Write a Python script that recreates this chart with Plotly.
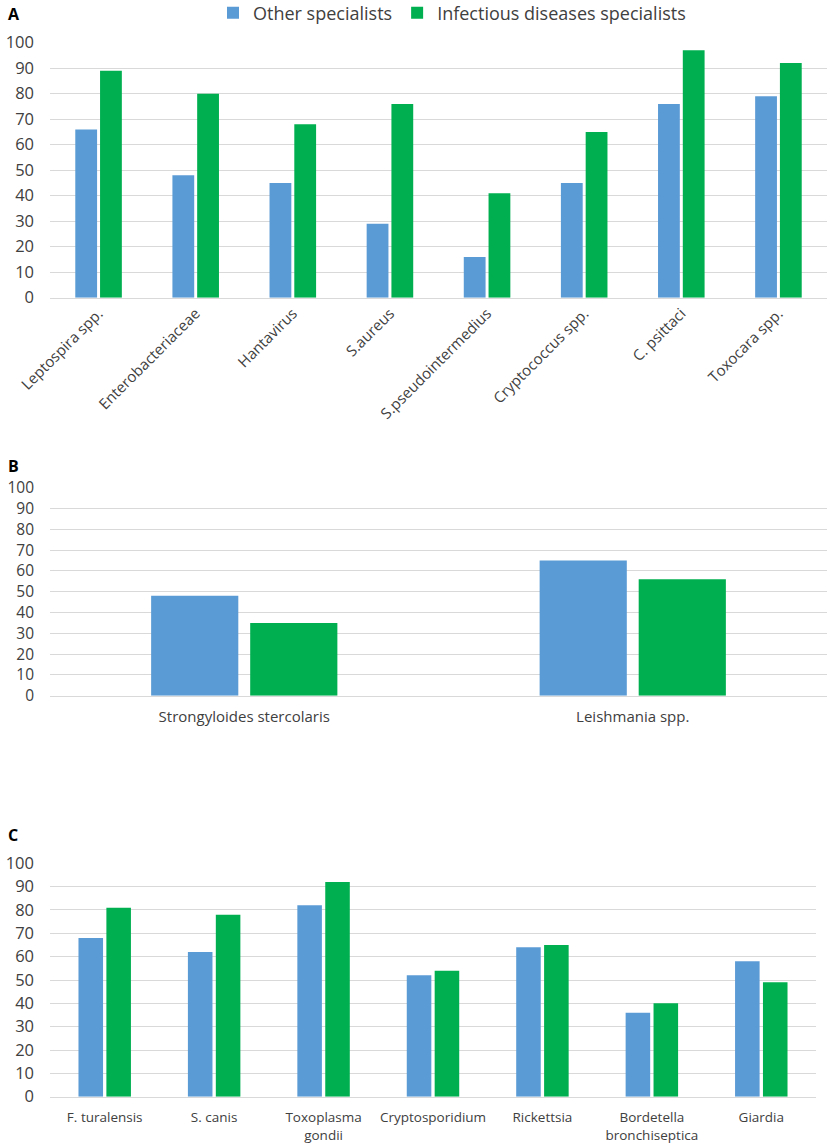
import plotly.graph_objects as go

# panel A
cats_a = ["Leptospira spp.", "Enterobacteriaceae", "Hantavirus", "S.aureus",
          "S.pseudointermedius", "Cryptococcus spp.", "C. psittaci", "Toxocara spp."]
other_a = [66, 48, 45, 29, 16, 45, 76, 79]
infect_a = [89, 80, 68, 76, 41, 65, 97, 92]

# panel B
cats_b = ["Strongyloides stercolaris", "Leishmania spp."]
other_b = [48, 65]
infect_b = [35, 56]

# panel C
cats_c = ["F. turalensis", "S. canis", "Toxoplasma<br>gondii", "Cryptosporidium",
          "Rickettsia", "Bordetella<br>bronchiseptica", "Giardia"]
other_c = [68, 62, 82, 52, 64, 36, 58]
infect_c = [81, 78, 92, 54, 65, 40, 49]

y_ticks = list(range(0, 101, 10))

BLUE = "#5B9BD5"
GREEN = "#00B050"
FONT = "Open Sans"
TXT = "#404040"
W, H = 829, 1145

fig = go.Figure()

panels = [
    ("x", "y", cats_a, other_a, infect_a, True),
    ("x2", "y2", cats_b, other_b, infect_b, False),
    ("x3", "y3", cats_c, other_c, infect_c, False),
]
for xa, ya, cats, oth, inf, show in panels:
    fig.add_trace(go.Bar(x=cats, y=oth, name="Other specialists", marker_color=BLUE,
                         marker_line_width=0, xaxis=xa, yaxis=ya, showlegend=show))
    fig.add_trace(go.Bar(x=cats, y=inf, name="Infectious diseases specialists",
                         marker_color=GREEN, marker_line_width=0,
                         xaxis=xa, yaxis=ya, showlegend=show))


def ydom(top_px, bottom_px):
    return [1 - bottom_px / H, 1 - top_px / H]


def yaxis_style(size):
    return dict(range=[0, 100], tickvals=y_ticks, showgrid=True, automargin=False,
                gridcolor="#d9d9d9", gridwidth=1.3, zeroline=False,
                showline=False, ticks="", tickfont=dict(size=size, color=TXT),
                ticklabelstandoff=15, fixedrange=True)


xaxis_common = dict(showgrid=False, showline=True, linecolor="#d9d9d9", linewidth=1.3,
                    ticks="", automargin=False, fixedrange=True)

fig.update_layout(
    width=W, height=H, autosize=False,
    margin=dict(l=0, r=0, t=0, b=0, autoexpand=False),
    paper_bgcolor="white", plot_bgcolor="white",
    font=dict(family=FONT, color=TXT),
    barmode="group", bargap=0.49, bargroupgap=0.12,
    hovermode=False,
    xaxis=dict(domain=[50 / W, 827 / W], anchor="y", tickangle=-45,
               tickfont=dict(size=15, color=TXT), **xaxis_common),
    yaxis=dict(domain=ydom(42.7, 297.7), anchor="x", **yaxis_style(16.5)),
    xaxis2=dict(domain=[50 / W, 827 / W], anchor="y2", tickangle=0,
                ticklabelstandoff=7, tickfont=dict(size=15, color=TXT),
                **xaxis_common),
    yaxis2=dict(domain=ydom(487.7, 695.7), anchor="x2", **yaxis_style(15.5)),
    xaxis3=dict(domain=[50 / W, 816 / W], anchor="y3", tickangle=0,
                ticklabelstandoff=8, tickfont=dict(size=13.5, color=TXT),
                **xaxis_common),
    yaxis3=dict(domain=ydom(863.3, 1096.7), anchor="x3", **yaxis_style(16.5)),
    legend=dict(orientation="h", x=452 / W, xanchor="center", y=1 - 13 / H,
                yanchor="middle", font=dict(size=18, color=TXT), itemwidth=30,
                traceorder="normal", bgcolor="rgba(0,0,0,0)"),
)

for lbl, ypx in [("A", 14), ("B", 466), ("C", 835)]:
    fig.add_annotation(text=f"<b>{lbl}</b>", xref="paper", yref="paper",
                       x=6 / W, y=1 - ypx / H, xanchor="left", yanchor="middle",
                       showarrow=False, font=dict(size=16, color="black", family=FONT))

# drop the default page margin so the figure sits at the window's top-left corner
fig.write_html("out.html", config={"displayModeBar": False},
               post_script="document.body.style.margin='0';document.body.style.overflow='hidden';")
